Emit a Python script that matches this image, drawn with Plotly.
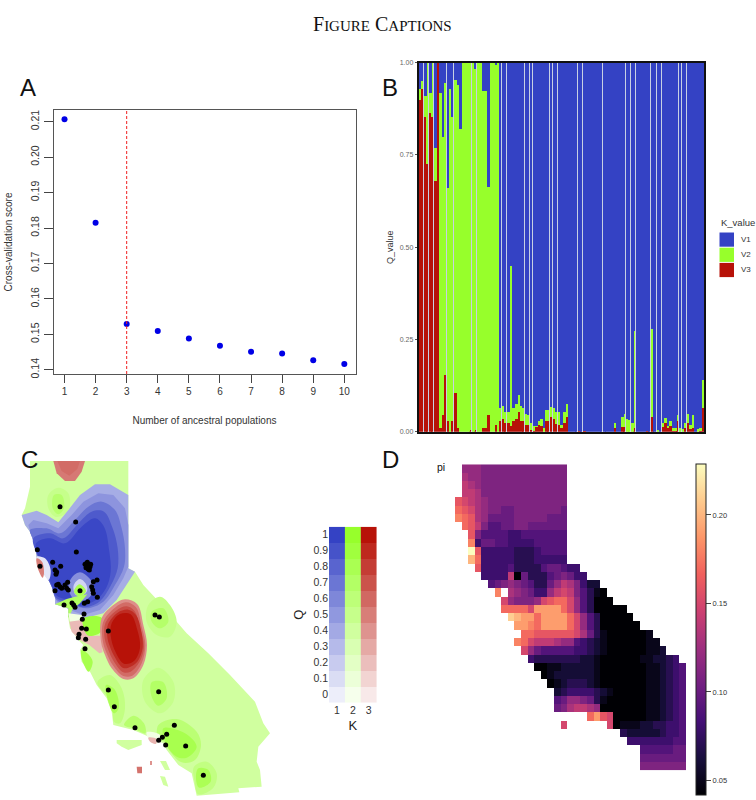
import plotly.graph_objects as go

W, H = 756, 800
BLUE, GREEN, RED = (52, 66, 196), (151, 255, 43), (183, 18, 8)

# ---------- Panel A ----------
K_VALUES = [1, 2, 3, 4, 5, 6, 7, 8, 9, 10]
CV_SCORE = [0.2107, 0.1815, 0.1529, 0.1509, 0.1488, 0.1468, 0.1451, 0.1446, 0.1427, 0.1416]
CV_TICKS = [0.14, 0.15, 0.16, 0.17, 0.18, 0.19, 0.20, 0.21]
CV_LABELS = ["0.14", "0.15", "0.16", "0.17", "0.18", "0.19", "0.20", "0.21"]
BEST_K = 3

# ---------- Panel B ----------
V3 = [.90, .93, .855, .725, .865, .855, .68, 1.0, .012, .045,
      .155, .03, 0, .03, .105, .012, 0, 0, 0, 0,
      .005, 0, .005, 0, 0, .01, .012, .045, 0, 0,
      .02, 0, .03, .035, .025, .025, .015, .03, .035, .055,
      .03, .03, .02, .02, .005, .003, .015, .02, .015, 0,
      .03, .03, .04, .035, .022, .02, .01, .025, .04, 0,
      0, 0, 0, .004, 0, .004, 0, 0, 0, 0,
      0, 0, 0, 0, 0, 0, 0, .012, 0, 0,
      .014, .014, 0, 0, 0, .01, 0, 0, 0, 0,
      .004, 0, .04, 0, 0, 0, .013, .025, .012, .015,
      .003, .003, .03, 0, 0, .01, .025, .008, .012, 0,
      0, .002, .065]
V2_TOP = [.93, .95, .91, 1.0, .92, 1.0, .77, 1.0, .92, .80,
          .945, .66, .93, .855, .955, .94, .82, 1.0, 1.0, 1.0,
          1.0, 1.0, .985, 1.0, 1.0, .925, .925, .665, 1.0, 1.0,
          .997, 1.0, .065, .07, .055, .055, .45, .065, .075, .10,
          .07, .065, .05, .045, .025, .015, .016, .03, .035, .01,
          .06, .06, .068, .065, .055, .055, .02, .055, .075, 0,
          0, 0, 0, .004, 0, .004, 0, 0, 0, 0,
          0, 0, 0, 0, 0, 0, 0, .025, 0, 0,
          .04, .05, .036, .032, .025, .275, 0, 0, 0, 0,
          .004, 0, .28, 0, .005, 0, .025, .037, .015, .03,
          .012, .012, .045, .01, .007, .025, .05, .02, .045, 0,
          .008, .01, .14]
GAP_AFTER = [0, 1, 3, 5, 10, 12, 13, 20, 22, 31, 32, 34, 41, 42, 43, 44, 51, 52, 54,
             62, 64, 72, 74, 81, 83, 85, 91, 93, 95, 102, 103, 105]
Q_TICKS = [0, .25, .5, .75, 1]
Q_LABELS = ["0.00", "0.25", "0.50", "0.75", "1.00"]
LEGEND_B = ["V1", "V2", "V3"]

# ---------- Panel C (map regions, in map grid units) ----------
COAST = [(90,48),(385,48),(385,370),(405,380),(430,420),(495,490),(560,565),(625,625),(690,690),(765,770),
         (790,835),(810,865),(775,905),(770,950),(780,975),(785,1025),(715,1030),(718,1042),(590,1052),(580,1010),
         (575,985),(535,960),(500,915),(490,895),(470,885),(440,872),(400,855),(340,840),(335,800),(320,760),
         (290,720),(270,680),(245,650),(240,615),(250,600),(235,585),(210,550),(205,520),(205,490),(165,478),
         (165,440),(150,410),(130,385),(110,340),(105,300),(90,260),(75,240),(65,210),(75,190),(90,125)]
ISLAND_1 = [(350,885),(425,885),(425,900),(385,915),(365,905),(350,895)]
ISLAND_2 = [(480,948),(498,948),(510,975),(495,975)]
ISLAND_3 = [(480,993),(495,995),(505,1025),(490,1020)]
ISLAND_RED = [(410,965),(426,965),(426,985),(412,985)]
ISLAND_PINK = [(450,948),(456,948),(456,960),(450,960)]

GR_A1 = [(145,150),(175,128),(205,145),(208,190),(190,210),(165,215),(145,190)]
GR_A2 = [(162,150),(185,150),(192,190),(175,208),(158,190)]
GR_B1 = [(445,480),(480,455),(510,480),(530,530),(510,575),(470,570),(440,530)]
GR_B2 = [(455,500),(490,490),(505,530),(480,550),(455,530)]
GR_D1 = [(292,712),(330,690),(365,730),(375,790),(360,835),(342,830),(338,800),(325,760)]
GR_D2 = [(318,720),(345,735),(356,790),(342,805),(325,770)]
GR_E1 = [(430,705),(475,668),(520,710),(520,770),(480,805),(435,770)]
GR_E2 = [(455,712),(490,712),(500,760),(475,782),(455,755)]
GR_F1 = [(372,840),(400,812),(432,835),(436,865),(400,850)]
GR_G1 = [(475,840),(530,822),(590,860),(603,900),(585,945),(545,952),(505,912),(495,892),(475,880)]
GR_G2 = [(490,850),(555,865),(590,905),(560,938),(530,935),(500,900)]
GR_H1 = [(582,965),(620,950),(650,985),(640,1028),(595,1048),(584,1010)]
GR_H2 = [(595,970),(625,975),(632,1010),(597,1028),(588,1000)]
GR_C1 = [(245,615),(262,625),(278,650),(266,680),(248,650),(243,628)]

BL_1 = [(65,210),(110,197),(140,210),(175,232),(205,195),(240,150),(285,118),(330,118),(385,150),(385,370),
        (405,380),(380,420),(350,465),(310,505),(270,515),(240,525),(205,515),(205,490),(165,478),(165,440),
        (150,410),(130,385),(110,340),(105,300),(90,260),(75,240)]
BL_2 = [(85,240),(100,225),(140,235),(175,250),(215,210),(250,170),(295,145),(340,150),(375,190),(385,240),
        (385,365),(370,400),(340,450),(300,495),(250,510),(210,495),(170,470),(160,430),(130,380),(110,330),(100,290)]
BL_3 = [(90,255),(140,250),(180,265),(225,225),(265,185),(305,170),(345,195),(365,250),(375,310),(372,365),
        (345,420),(310,470),(260,490),(220,480),(170,465),(155,425),(130,375),(110,325),(100,285)]
BL_4 = [(100,280),(150,265),(190,280),(235,235),(275,200),(312,200),(338,250),(353,310),(353,370),(333,420),
        (298,470),(250,487),(210,472),(170,460),(155,425),(130,370),(112,330)]
BL_5 = [(108,295),(150,280),(195,295),(245,245),(285,220),(312,245),(328,320),(332,380),(318,430),(288,465),
        (240,482),(215,467),(170,452),(155,420),(135,365),(114,330)]
HOLE_1 = [(240,382),(268,400),(282,430),(262,462),(225,465),(205,430),(215,398)]
HOLE_2 = [(240,402),(256,414),(262,435),(250,450),(228,450),(220,428),(226,412)]
HOLE_G = [(238,418),(258,438),(240,455),(222,440)]
COAST_W = [(110,335),(135,340),(152,375),(146,405),(130,385)]
COAST_R = [(110,340),(126,350),(132,385),(128,398),(112,365)]
SOUTH_G = [(165,478),(200,462),(225,455),(262,448),(240,475),(218,492),(205,520),(205,490)]
SOUTH_W = [(205,505),(245,510),(250,530),(210,530)]
PINK = [(208,530),(245,525),(252,550),(270,572),(302,572),(308,622),(298,625),(268,600),(240,585),(215,560)]
GREEN_P = [(250,520),(305,518),(303,560),(265,572),(250,545)]

RD_1 = [(305,520),(340,480),(375,463),(412,478),(430,540),(441,600),(430,660),(400,700),(370,702),(335,670),(315,630),(303,590)]
RD_2 = [(310,530),(345,488),(378,472),(408,487),(425,545),(436,600),(425,655),(397,692),(370,693),(338,660),(320,625),(308,585)]
RD_3 = [(316,535),(348,497),(380,484),(403,497),(420,548),(432,605),(418,652),(392,680),(370,682),(342,650),(325,615),(314,580)]
RD_4 = [(324,538),(353,503),(385,494),(408,510),(423,555),(428,608),(412,650),(385,668),(368,668),(342,632),(328,600),(322,575)]
RD_5 = [(335,535),(360,507),(392,508),(412,555),(420,608),(402,648),(372,656),(347,622),(332,572)]
TOP_1 = [(160,48),(255,48),(245,80),(225,108),(195,108),(170,85)]
TOP_2 = [(172,48),(240,48),(232,72),(208,92),(185,78)]
ANGEL_W = [(440,862),(480,870),(470,896),(445,880)]
ANGEL_R = [(445,878),(470,882),(468,896),(452,892)]

SHARP_LAYERS = [COAST, ISLAND_1, ISLAND_2, ISLAND_3, ISLAND_RED, ISLAND_PINK, BL_1, BL_2, TOP_1, TOP_2, PINK, SOUTH_G, SOUTH_W]
MAP_LAYERS = [
    (2, .40, COAST), (2, .40, ISLAND_1), (2, .40, ISLAND_2), (2, .40, ISLAND_3),
    (3, .55, ISLAND_RED), (3, .40, ISLAND_PINK),
    (2, .50, GR_A1), (2, .66, GR_A2), (2, .50, GR_B1), (2, .68, GR_B2),
    (2, .55, GR_D1), (2, .78, GR_D2), (2, .50, GR_E1), (2, .70, GR_E2), (2, .65, GR_F1),
    (2, .62, GR_G1), (2, .82, GR_G2), (2, .55, GR_H1), (2, .78, GR_H2), (2, .82, GR_C1),
    (1, .38, BL_1), (1, .52, BL_2), (1, .70, BL_3), (1, .86, BL_4), (1, .97, BL_5),
    (1, .55, HOLE_1), (1, .15, HOLE_2), (2, .80, HOLE_G),
    (1, .05, COAST_W), (3, .50, COAST_R),
    (2, .72, SOUTH_G), (2, .05, SOUTH_W), (3, .22, PINK), (2, .90, GREEN_P),
    (3, .42, RD_1), (3, .58, RD_2), (3, .72, RD_3), (3, .88, RD_4), (3, 1.0, RD_5),
    (3, .52, TOP_1), (3, .58, TOP_2), (2, .05, ANGEL_W), (3, .25, ANGEL_R),
]

SITES_X = [180,227,229,112,120,158,182,165,168,170,255,260,265,270,258,264,272,262,268,291,280,275,278,280,292,
           240,165,170,180,185,195,203,200,205,175,192,216,225,221,253,263,252,247,465,478,245,259,325,237,235,257,255,
           325,343,405,476,523,500,487,476,497,557,610]
SITES_Y = [185,231,321,314,364,352,364,375,388,381,358,355,360,365,368,372,358,352,375,405,410,425,435,445,457,
           437,437,420,425,430,420,412,430,435,418,480,474,487,480,475,470,507,523,510,516,550,552,558,568,578,583,611,
           735,785,848,740,841,868,877,886,900,903,991]
Q_LEVELS = [0, .1, .2, .3, .4, .5, .6, .7, .8, .9, 1]
Q_LEVEL_LABELS = ["0", "0.1", "0.2", "0.3", "0.4", "0.5", "0.6", "0.7", "0.8", "0.9", "1"]
K_LEVELS = [1, 2, 3]

# ---------- Panel D : pi per grid cell, (first column, one level character per cell) ----------
PI_LEVELS = "0123456789abcdefghij"   # 0 -> 0.04 ... j -> 0.23
PI_ROWS = [
    (1, "8887777777777777"), (1, "9887777777777777"), (1, "a987777777777777"), (1, "aa97777777777777"),
    (0, "cba98777777777777"), (0, "dcb98776677777776"), (0, "edc98666677777666"),
    (1, "dca7556677666666"), (2, "c75555445555555"), (2, "e46655444455555"),
    (2, "jc4444433345555"), (2, "gd4444433344444"), (3, "c444453333566544"),
    (4, "4444a06333567644"), (5, "56787653368a97422"), (6, "e.9876448aba75310"),
    (7, "b87778bcddb853000"), (7, "ddddbffffdb85300000"), (8, "hgffdffffdb85300000"),
    (9, "ffedffffdb853000000"), (10, "ddccccccb96310000001"), (9, "edbaaa9885432100000011"),
    (10, "b865555544321000000112"), (11, "43333333221000000112234"),
    (12, "00112222210000000112345"), (13, "0122222210000000112345"),
    (14, "012333210000000112345"), (15, "23444432100000112345"),
    (15, "56887631000000112345"), (15, "679aa980000000112345"),
    (20, "dfcb00000112345"), (16, "b......b01112233445"),
    (25, "3222223445"), (26, "444444455"), (28, "5555566"), (28, "6666666"), (28, "7777777"),
]
PI_MIN, PI_MAX = 0.0418, 0.2288
PI_TICKS = [0.05, 0.10, 0.15, 0.20]
PI_LABELS = ["0.05", "0.10", "0.15", "0.20"]


def px(x):
    return x / W


def py(y):
    return 1 - y / H


def rgb(c):
    return f"rgb({c[0]},{c[1]},{c[2]})"


def tint(base, q):
    a = (q + .1) / 1.1
    return rgb(tuple(round(255 - a * (255 - c)) for c in base))


BASES = {1: BLUE, 2: GREEN, 3: RED}
TXT = "Liberation Sans"
fig = go.Figure()

# Panel A
fig.add_trace(go.Scatter(x=K_VALUES, y=CV_SCORE, mode="markers", xaxis="x", yaxis="y",
                         marker=dict(color="#0000e6", size=6), hoverinfo="skip"))
# Panel B
n = len(V3)
bar_x = list(range(n))
widths = [0.62 if i in GAP_AFTER else 1.0 for i in bar_x]
V2 = [t - r for t, r in zip(V2_TOP, V3)]
V1 = [1 - t for t in V2_TOP]
for name, vals, col in (("V3", V3, RED), ("V2", V2, GREEN), ("V1", V1, BLUE)):
    fig.add_trace(go.Bar(x=bar_x, y=vals, name=name, xaxis="x2", yaxis="y2", width=widths, offset=0,
                         marker=dict(color=rgb(col), line=dict(width=0)), hoverinfo="skip"))
# Panel C map
for k, q, pts in MAP_LAYERS:
    xs = [p[0] for p in pts] + [pts[0][0]]
    ys = [p[1] for p in pts] + [pts[0][1]]
    sharp = any(pts is s for s in SHARP_LAYERS)
    fig.add_trace(go.Scatter(x=xs, y=ys, mode="lines", fill="toself", fillcolor=tint(BASES[k], q),
                             line=dict(width=0, shape="linear" if sharp else "spline"),
                             xaxis="x3", yaxis="y3", hoverinfo="skip"))
fig.add_trace(go.Scatter(x=SITES_X, y=SITES_Y, mode="markers", marker=dict(color="black", size=5),
                         xaxis="x3", yaxis="y3", hoverinfo="skip"))
# Panel C legend
for k in K_LEVELS:
    fig.add_trace(go.Heatmap(x=[k], y=Q_LEVELS, z=[[q] for q in Q_LEVELS], zmin=-.1, zmax=1,
                             colorscale=[[0, "white"], [1, rgb(BASES[k])]], showscale=False,
                             xaxis="x4", yaxis="y4", hoverinfo="skip"))
# Panel D
pi_grid = []
for start, cells in PI_ROWS:
    row = [None] * 35
    for j, ch in enumerate(cells):
        if ch != "." and start + j < 35:
            row[start + j] = 0.04 + PI_LEVELS.index(ch) * 0.01
    pi_grid.append(row)
fig.add_trace(go.Heatmap(z=pi_grid, colorscale="Magma", zmin=PI_MIN, zmax=PI_MAX, xaxis="x5", yaxis="y5",
                         hoverinfo="skip", hoverongaps=False,
                         colorbar=dict(x=px(695.7), xanchor="left", y=py(464), yanchor="top",
                                       lenmode="pixels", len=331, thicknessmode="pixels", thickness=10,
                                       xpad=0, ypad=0, outlinewidth=1, outlinecolor="#222",
                                       tickvals=PI_TICKS, ticktext=PI_LABELS, ticks="outside", ticklen=5,
                                       tickfont=dict(family=TXT, size=7.5, color="#333"), tickwidth=1)))

hidden = dict(visible=False, showgrid=False, zeroline=False)
layout = dict(
    width=W, height=H, margin=dict(l=0, r=0, t=0, b=0, autoexpand=False), paper_bgcolor="white", plot_bgcolor="white",
    showlegend=False, barmode="stack", bargap=0,
    font=dict(family=TXT, color="#222"),
    xaxis=dict(domain=[px(53.5), px(355.5)], range=[.646, 10.36], tickvals=K_VALUES, ticks="outside", ticklen=8,
               tickcolor="#444", showgrid=False, zeroline=False, showline=True, mirror=True, linecolor="#555",
               linewidth=1, tickfont=dict(size=10, color="#333"),
               title=dict(text="Number of ancestral populations", font=dict(size=10, color="#333"), standoff=20)),
    yaxis=dict(domain=[py(374), py(110)], range=[.1388, .2133], tickvals=CV_TICKS, ticktext=CV_LABELS, tickangle=-90,
               ticks="outside", ticklen=9, tickcolor="#444", showgrid=False, zeroline=False, showline=True,
               mirror=True, linecolor="#555", linewidth=1, tickfont=dict(size=10.5, color="#333"),
               title=dict(text="Cross-validation score", font=dict(size=10, color="#333"), standoff=14)),
    xaxis2=dict(domain=[px(418.5), px(704)], range=[0, n], showticklabels=False, ticks="", showgrid=False,
                zeroline=False, showline=True, mirror=True, linecolor="#111", linewidth=1.5, anchor="y2"),
    yaxis2=dict(domain=[py(431.7), py(62.7)], range=[0, 1], tickvals=Q_TICKS, ticktext=Q_LABELS, ticks="outside",
                ticklen=2, tickcolor="#555", showgrid=False, zeroline=False, showline=True, mirror=True,
                linecolor="#111", linewidth=1.5, tickfont=dict(size=7, color="#666"), anchor="x2",
                title=dict(text="Q_value", font=dict(size=9, color="#333"), standoff=5)),
    xaxis3=dict(domain=[0, px(380)], range=[0, 1140], anchor="y3", **hidden),
    yaxis3=dict(domain=[0, py(445)], range=[1065, 0], anchor="x3", **hidden),
    xaxis4=dict(domain=[px(329), px(376.7)], range=[.5, 3.5], tickvals=K_LEVELS, ticks="", showgrid=False,
                zeroline=False, showline=False, tickfont=dict(size=10.5, color="#333"), anchor="y4",
                title=dict(text="K", font=dict(size=13, color="#222"), standoff=5)),
    yaxis4=dict(domain=[py(702.7), py(526.7)], range=[-.05, 1.05], tickvals=Q_LEVELS, ticktext=Q_LEVEL_LABELS,
                ticks="", showgrid=False, zeroline=False, showline=False, tickfont=dict(size=10.5, color="#333"),
                anchor="x4", title=dict(text="Q", font=dict(size=13, color="#222"), standoff=6)),
    xaxis5=dict(domain=[px(455), px(686)], range=[-.5, 34.5], anchor="y5", **hidden),
    yaxis5=dict(domain=[py(770.3), py(464.3)], range=[36.5, -.5], anchor="x5", **hidden),
    shapes=[dict(type="line", xref="x", yref="paper", x0=BEST_K, x1=BEST_K, y0=py(374), y1=py(110),
                 line=dict(color="#f02020", width=1, dash="3px,2px")),
            dict(type="rect", xref="paper", yref="paper", x0=px(418.5), x1=px(704), y0=py(431.7), y1=py(62.7),
                 fillcolor="rgb(200,208,228)", line=dict(width=0), layer="below")],
    annotations=[],
)
fig.update_layout(**layout)


def note(text, x, y, size, anchor="left", color="#111", family=TXT):
    fig.add_annotation(text=text, x=px(x), y=py(y), xref="paper", yref="paper", showarrow=False, xanchor=anchor,
                       yanchor="middle", font=dict(size=size, color=color, family=family))


small = "<span style='font-size:15px'>"
note(f"F{small}IGURE</span> C{small}APTIONS</span>", 382, 24, 20, "center", "#111", "Liberation Serif")
for letter, lx, ly in (("A", 18, 88), ("B", 380, 88), ("C", 19, 459), ("D", 380, 460)):
    note(letter, lx, ly, 24)
note("pi", 435, 467, 10.5)

# Panel B legend
note("K_value", 719, 222, 9.5, color="#333")
for i, (lab, col) in enumerate(zip(LEGEND_B, (BLUE, GREEN, RED))):
    y0 = 232 + 15.2 * i
    fig.add_shape(type="rect", xref="paper", yref="paper", x0=px(719.5), x1=px(734), y0=py(y0 + .5), y1=py(y0 + 14.7),
                  fillcolor=rgb(col), line=dict(width=0))
    note(lab, 739, y0 + 7.5, 8, color="#333")

fig.write_html("out.html", config=dict(displayModeBar=False), post_script="document.body.style.margin='0'")
